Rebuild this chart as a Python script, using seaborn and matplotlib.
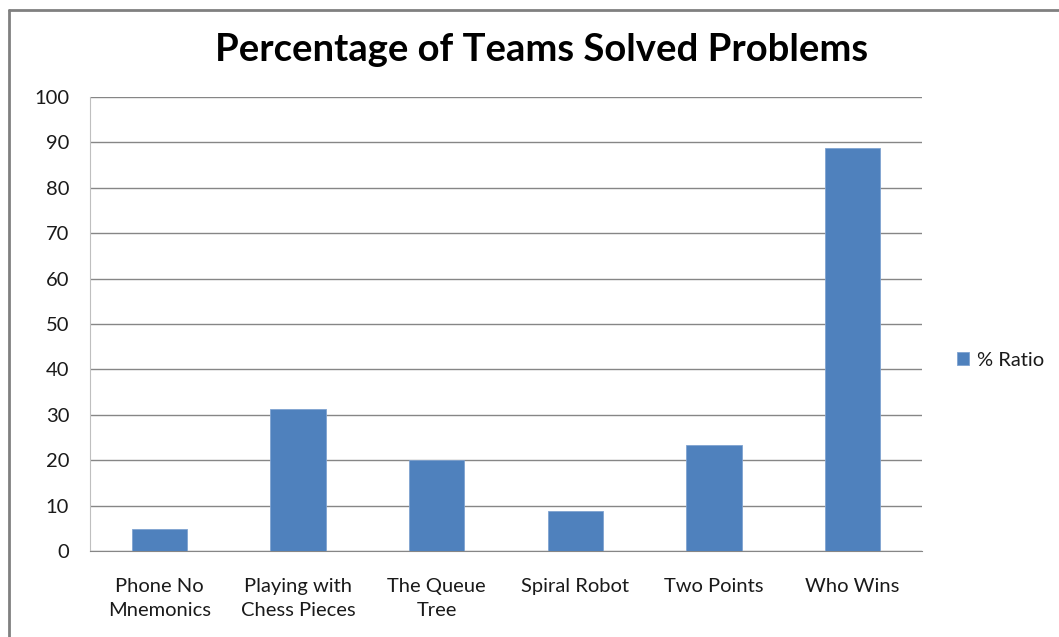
import numpy as np
import pandas as pd
import seaborn as sns
import matplotlib.pyplot as plt
from matplotlib.lines import Line2D

sns.set_style("white")
plt.rcParams['font.family'] = ['Lato', 'DejaVu Sans']

problems = ['Phone No\nMnemonics', 'Playing with\nChess Pieces', 'The Queue\nTree',
            'Spiral Robot', 'Two Points', 'Who Wins']
ratio = [4.9, 31.3, 20.0, 8.9, 23.4, 88.8]
y_ticks = list(range(0, 101, 10))

df = pd.DataFrame({'problem': problems, 'ratio': ratio})

fig = plt.figure(figsize=(10.59, 6.37), dpi=100)
ax = fig.add_axes([90/1059, 1 - 551/637, (922 - 90)/1059, (551 - 97)/637])

sns.barplot(data=df, x='problem', y='ratio', color='#4F81BD', width=0.4,
            saturation=1, label='% Ratio', edgecolor='#7FA3D1', linewidth=0.6,
            ax=ax, zorder=3)

ax.set_ylim(0, 100)
ax.set_yticks(y_ticks)
ax.set_xlim(-0.5, len(problems) - 0.5)
ax.grid(axis='y', color='#868686', linewidth=1, zorder=0)
ax.set_xlabel('')
ax.set_ylabel('')

for side in ['top', 'right']:
    ax.spines[side].set_visible(False)
ax.spines['left'].set_color('#BFBFBF')
ax.spines['bottom'].set_color('#868686')

ax.tick_params(axis='y', length=0, pad=15, labelsize=14.5, labelcolor='#1a1a1a')
ax.tick_params(axis='x', length=0, pad=19.5, labelsize=14.5, labelcolor='#1a1a1a')
for lbl in ax.get_xticklabels():
    lbl.set_linespacing(1.5)

ax.legend(loc='center left', bbox_to_anchor=(1.02, 0.42), frameon=False,
          fontsize=14.5, handlelength=0.6, handleheight=0.6, handletextpad=0.4,
          labelcolor='#1a1a1a')

fig.text(0.511, 0.921, 'Percentage of Teams Solved Problems', ha='center', va='center',
         fontsize=27.5, fontweight='bold', color='black')

# outer chart frame (only left and top are visible in the crop)
fig.add_artist(Line2D([8.5/1059, 8.5/1059], [0, 1 - 10/637], transform=fig.transFigure,
                      color='#808080', linewidth=2))
fig.add_artist(Line2D([8.5/1059, 1], [1 - 10/637, 1 - 10/637], transform=fig.transFigure,
                      color='#808080', linewidth=2))

plt.savefig('out.png', dpi=100)
